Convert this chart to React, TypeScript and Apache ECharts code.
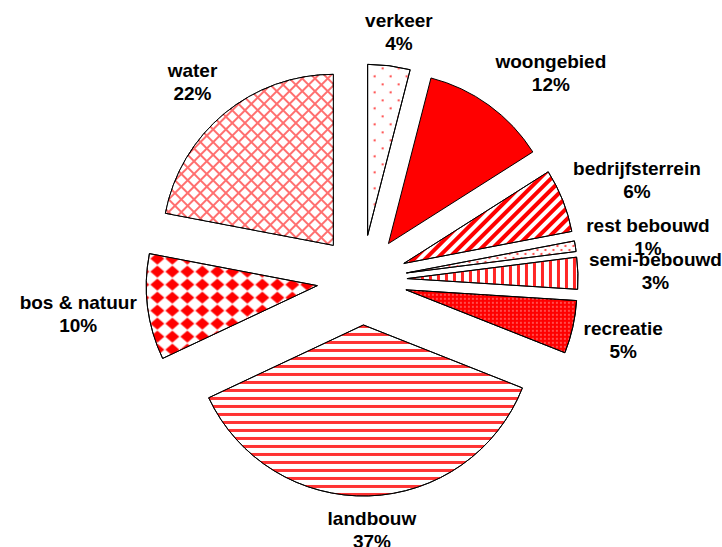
import React, { useEffect, useRef } from 'react';
import * as echarts from 'echarts';

const categories = [
  'verkeer',
  'woongebied',
  'bedrijfsterrein',
  'rest bebouwd',
  'semi-bebouwd',
  'recreatie',
  'landbouw',
  'bos & natuur',
  'water',
];
const values = [4, 12, 6, 1, 3, 5, 37, 10, 22];

const RED = '#ff0000';
const CX = 362;
const CY = 280;
const RADIUS = 171;
const OFFSET = 45;
const GAP = 11;
const FONT = "'Liberation Sans', Arial, sans-serif";

const fills = ['#ffffff', RED, '#ffffff', '#ffffff', '#ffffff', RED, '#ffffff', '#ffffff', '#ff7070'];

const decals: any[] = [
  { symbol: 'circle', symbolSize: 1, color: '#ff3030', dashArrayX: [[2, 14], [0, 8, 2, 6]], dashArrayY: [2, 6] },
  null,
  { symbol: 'rect', symbolSize: 1, color: RED, dashArrayX: [[1, 0]], dashArrayY: [4, 4], rotation: -Math.PI / 4 },
  { symbol: 'circle', symbolSize: 1, color: '#ff3030', dashArrayX: [[2, 6], [0, 4, 2, 2]], dashArrayY: [2, 2] },
  { symbol: 'rect', symbolSize: 1, color: 'rgba(255,0,0,0.85)', dashArrayX: [[3, 5]], dashArrayY: [8, 0] },
  { symbol: 'rect', symbolSize: 0.6, color: '#ffffff', dashArrayX: [[2, 2]], dashArrayY: [2, 2] },
  { symbol: 'rect', symbolSize: 1, color: 'rgba(255,0,0,0.8)', dashArrayX: [[1, 0]], dashArrayY: [3, 5] },
  { symbol: 'diamond', symbolSize: 1, color: RED, dashArrayX: [[14, 1]], dashArrayY: [12, 1] },
  { symbol: 'rect', symbolSize: 1, color: '#ffffff', dashArrayX: [[7, 2]], dashArrayY: [7, 2], rotation: Math.PI / 4 },
];

const total = values.reduce((a, b) => a + b, 0);
const cum: number[] = [];
{
  let acc = 0;
  values.forEach((v) => {
    cum.push(acc);
    acc += v;
  });
}

const clamp1 = (v: number) => Math.max(-1, Math.min(1, v));

export default function App() {
  const ref = useRef<HTMLDivElement>(null);
  useEffect(() => {
    if (!ref.current) return;
    const chart = echarts.init(ref.current, undefined, { renderer: 'svg' });
    chart.setOption({
      animation: false,
      backgroundColor: '#ffffff',
      textStyle: { fontFamily: FONT },
      series: [
        {
          type: 'pie',
          center: [CX, CY],
          radius: RADIUS,
          startAngle: 90,
          clockwise: true,
          selectedMode: 'multiple',
          selectedOffset: OFFSET,
          emphasis: { disabled: true },
          itemStyle: { borderColor: '#000', borderWidth: 1 },
          select: { itemStyle: { borderColor: '#000', borderWidth: 1 } },
          label: { show: false },
          labelLine: { show: false },
          data: categories.map((name, i) => ({
            name,
            value: values[i],
            selected: true,
            itemStyle: decals[i]
              ? { color: fills[i], decal: decals[i] }
              : { color: fills[i] },
          })),
        },
        {
          type: 'pie',
          center: [CX, CY],
          radius: RADIUS,
          startAngle: 90,
          clockwise: true,
          silent: true,
          selectedMode: false,
          emphasis: { disabled: true },
          itemStyle: { color: 'rgba(0,0,0,0)', borderWidth: 0 },
          label: {
            show: true,
            position: 'outside',
            formatter: (p: any) => `${p.name}\n${Math.round(p.percent)}%`,
            fontFamily: FONT,
            fontWeight: 'bold',
            fontSize: 19,
            lineHeight: 23,
            color: '#000',
            align: 'center',
            overflow: 'none',
          },
          labelLine: { show: false },
          labelLayout: (p: any) => {
            const i = p.dataIndex;
            const a = ((cum[i] + values[i] / 2) / total) * Math.PI * 2;
            const dx = Math.sin(a);
            const dy = -Math.cos(a);
            const w = p.labelRect.width;
            const h = p.labelRect.height;
            const d = OFFSET + RADIUS + GAP;
            return {
              x: CX + d * dx + clamp1(2 * dx) * (w / 2),
              y: CY + d * dy + clamp1(2 * dy) * (h / 2),
              align: 'center',
              verticalAlign: 'middle',
            };
          },
          data: categories.map((name, i) => ({ name, value: values[i] })),
        },
      ],
    });
    return () => chart.dispose();
  }, []);
  return (
    <div
      ref={ref}
      style={{ position: 'fixed', left: 0, top: 0, width: 722, height: 547, background: '#fff' }}
    />
  );
}
